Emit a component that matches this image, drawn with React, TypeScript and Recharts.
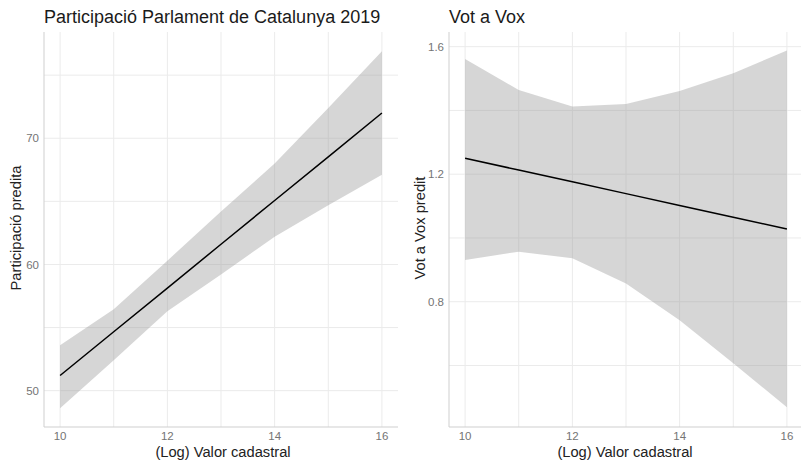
import React from "react";
import { ComposedChart, Area, Line, XAxis, YAxis, CartesianGrid } from "recharts";

const logValor = [10, 11, 12, 13, 14, 15, 16];
const partFit = [51.2, 54.67, 58.13, 61.6, 65.07, 68.53, 72.0];
const partLower = [48.6, 52.4, 56.3, 59.2, 62.2, 64.7, 67.1];
const partUpper = [53.6, 56.45, 60.3, 64.2, 68.0, 72.4, 76.9];
const voxFit = [1.25, 1.213, 1.176, 1.139, 1.102, 1.065, 1.028];
const voxLower = [0.931, 0.957, 0.936, 0.857, 0.742, 0.607, 0.469];
const voxUpper = [1.561, 1.464, 1.412, 1.42, 1.461, 1.517, 1.588];

const xTicks = [10, 12, 14, 16];
const xGrid = [10, 11, 12, 13, 14, 15, 16];
const partTicks = [50, 60, 70];
const partGrid = [50, 55, 60, 65, 70, 75];
const voxTicks = [0.8, 1.2, 1.6];
const voxGrid = [0.6, 0.8, 1.0, 1.2, 1.4, 1.6];

const partData = logValor.map((x, i) => ({ x, fit: partFit[i], band: [partLower[i], partUpper[i]] }));
const voxData = logValor.map((x, i) => ({ x, fit: voxFit[i], band: [voxLower[i], voxUpper[i]] }));

const FONT = "'Liberation Sans', Arial, Helvetica, sans-serif";
const tickStyle = { fill: "#747474", fontSize: 11.5, fontFamily: FONT };

function Panel(props: {
  data: any[];
  left: number;
  width: number;
  yWidth: number;
  yDomain: [number, number];
  yTicks: number[];
  yGrid: number[];
  fmt: (v: number) => string;
}) {
  const { data, left, width, yWidth, yDomain, yTicks, yGrid, fmt } = props;
  return (
    <div style={{ position: "absolute", left, top: 0 }}>
      <ComposedChart width={width} height={460} data={data} margin={{ top: 32, right: 0, bottom: 0, left: 0 }}>
        <CartesianGrid stroke="#ebebeb" strokeWidth={1} verticalValues={xGrid} horizontalValues={yGrid} />
        <XAxis
          dataKey="x"
          type="number"
          domain={[9.7, 16.3]}
          ticks={xTicks}
          height={33}
          tickLine={false}
          tickSize={0}
          tickMargin={5}
          axisLine={{ stroke: "#cfcfcf" }}
          tick={tickStyle}
          allowDataOverflow
        />
        <YAxis
          type="number"
          domain={yDomain}
          ticks={yTicks}
          width={yWidth}
          tickLine={false}
          tickSize={0}
          tickMargin={5}
          axisLine={{ stroke: "#cfcfcf" }}
          tick={tickStyle}
          tickFormatter={fmt}
          allowDataOverflow
        />
        <Area dataKey="band" type="linear" stroke="none" fill="#999999" fillOpacity={0.4} isAnimationActive={false} />
        <Line dataKey="fit" type="linear" stroke="#000000" strokeWidth={1.5} dot={false} isAnimationActive={false} />
      </ComposedChart>
    </div>
  );
}

const titleStyle: React.CSSProperties = {
  position: "absolute",
  fontFamily: FONT,
  fontSize: 18,
  color: "#1a1a1a",
  whiteSpace: "nowrap",
  lineHeight: "20px",
};
const axisTitleStyle: React.CSSProperties = {
  position: "absolute",
  fontFamily: FONT,
  fontSize: 14.7,
  color: "#222222",
  whiteSpace: "nowrap",
  lineHeight: "16px",
};

export default function App() {
  return (
    <div style={{ position: "absolute", left: 0, top: 0, width: 801, height: 460, overflow: "hidden", background: "#ffffff" }}>
      <Panel data={partData} left={0} width={398} yWidth={44} yDomain={[47.12, 78.42]} yTicks={partTicks} yGrid={partGrid} fmt={(v) => String(v)} />
      <Panel data={voxData} left={401} width={402} yWidth={48} yDomain={[0.407, 1.646]} yTicks={voxTicks} yGrid={voxGrid} fmt={(v) => v.toFixed(1)} />
      <div style={{ ...titleStyle, left: 44, top: 7 }}>Participació Parlament de Catalunya 2019</div>
      <div style={{ ...titleStyle, left: 449, top: 7 }}>Vot a Vox</div>
      <div style={{ ...axisTitleStyle, left: 223, top: 444, transform: "translateX(-50%)" }}>(Log) Valor cadastral</div>
      <div style={{ ...axisTitleStyle, left: 625, top: 444, transform: "translateX(-50%)" }}>(Log) Valor cadastral</div>
      <div style={{ ...axisTitleStyle, left: 16, top: 228, transform: "translate(-50%, -50%) rotate(-90deg)" }}>Participació predita</div>
      <div style={{ ...axisTitleStyle, left: 420, top: 228, transform: "translate(-50%, -50%) rotate(-90deg)" }}>Vot a Vox predit</div>
    </div>
  );
}
